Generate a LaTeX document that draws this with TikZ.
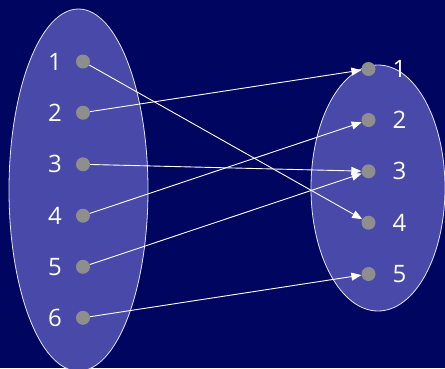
\documentclass[tikz,border=0pt]{standalone}
\usepackage{fontspec}
\setsansfont{Open Sans}
\usetikzlibrary{arrows.meta, shapes.geometric}
\definecolor{navybg}{HTML}{000660}
\definecolor{setfill}{HTML}{4849A8}
\definecolor{dotgray}{HTML}{8E8E8E}

\begin{document}
\begin{tikzpicture}[
    x=1pt, y=-1pt,
    font=\sffamily,
    setbox/.style={
        ellipse, draw=white!85!setfill, fill=setfill, line width=0.8pt,
        inner sep=0pt,
    },
    dot/.style={
        circle, fill=dotgray, minimum size=14pt, inner sep=0pt,
    },
    num/.style={text=white, font=\sffamily\fontsize{24}{24}\selectfont, inner sep=0pt},
    arrow/.style={-{Triangle[length=10pt, width=8pt]}, line width=0.9pt, draw=white},
]

% ===== Background =====
\fill[navybg] (0,0) rectangle (445,368);
\useasboundingbox (0,0) rectangle (445,368);

% ===== The two sets =====
\node[setbox, minimum width=139pt, minimum height=362pt] (setA) at (78.5, 190) {};
\node[setbox, minimum width=134pt, minimum height=246pt] (setB) at (378, 188) {};

% ===== Left set: dots and numbers =====
\node[dot] (l1) at (83, 61.5)  {};
\node[dot] (l2) at (83, 112.7) {};
\node[dot] (l3) at (83, 164.3) {};
\node[dot] (l4) at (83, 215.7) {};
\node[dot] (l5) at (83, 266.8) {};
\node[dot] (l6) at (83, 317.8) {};

\node[num] (ln1) at (55, 61.5)  {1};
\node[num] (ln2) at (55, 112.7) {2};
\node[num] (ln3) at (55, 164.3) {3};
\node[num] (ln4) at (55, 215.7) {4};
\node[num] (ln5) at (55, 266.8) {5};
\node[num] (ln6) at (55, 317.8) {6};

% ===== Right set: dots and numbers =====
\node[dot] (r1) at (368.5, 69)    {};
\node[dot] (r2) at (368.5, 120)   {};
\node[dot] (r3) at (368.5, 171.3) {};
\node[dot] (r4) at (368.5, 222.7) {};
\node[dot] (r5) at (368.5, 274)   {};

\node[num] (rn1) at (399.5, 69)    {1};
\node[num] (rn2) at (399.5, 120)   {2};
\node[num] (rn3) at (399.5, 171.3) {3};
\node[num] (rn4) at (399.5, 222.7) {4};
\node[num] (rn5) at (399.5, 274)   {5};

% ===== Mapping =====
\draw[arrow] (l1) -- (r4);
\draw[arrow] (l2) -- (r1);
\draw[arrow] (l3) -- (r3);
\draw[arrow] (l4) -- (r2);
\draw[arrow] (l5) -- (r3);
\draw[arrow] (l6) -- (r5);

\end{tikzpicture}
\end{document}
